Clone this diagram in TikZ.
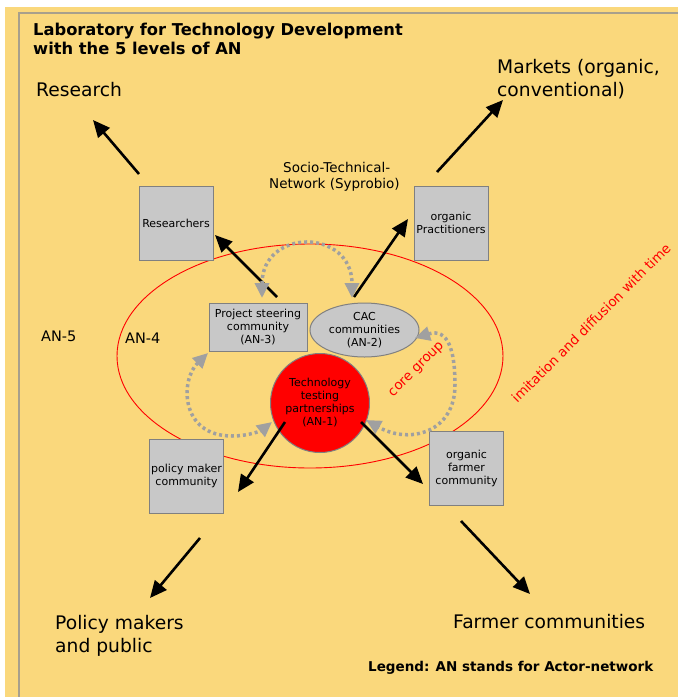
\documentclass[tikz,border=0pt]{standalone}
\usepackage{fontspec}
\setmainfont{DejaVu Sans}
\usetikzlibrary{arrows.meta,shapes.geometric}
\definecolor{bg}{HTML}{FAD87C}
\definecolor{boxfill}{HTML}{C8C8C8}
\definecolor{boxline}{HTML}{808080}
\definecolor{dotgray}{HTML}{A0A0A0}
\definecolor{framegray}{HTML}{A8A08C}
\begin{document}
\begin{tikzpicture}[x=1pt,y=-1pt,
  sq/.style={draw=boxline, fill=boxfill, line width=1pt, minimum width=74pt, minimum height=74pt, inner sep=1pt, align=center, font=\fontsize{11}{13}\selectfont},
  big/.style={font=\fontsize{18.7}{23}\selectfont, align=left, inner sep=0pt},
  blk/.style={-{Triangle[length=17pt,width=15pt]}, line width=2.6pt, black},
  dotarr/.style={{Triangle[length=15pt,width=14pt]}-{Triangle[length=15pt,width=14pt]}, draw=dotgray, line width=3.5pt, dash pattern=on 3pt off 3pt},
  redtxt/.style={text=red, font=\fontsize{13.4}{15}\selectfont, inner sep=0pt},
  anlab/.style={font=\fontsize{14.5}{16}\selectfont, anchor=west, inner sep=0pt}
]
\useasboundingbox (0,0) rectangle (678,697);
\fill[white] (0,0) rectangle (678,697);
\fill[bg] (5,7) rectangle (678,697);
\draw[framegray, line width=1.2pt] (19,697) -- (19,13) -- (678,13);

% title
\node[anchor=north west, align=left, inner sep=0pt, font=\bfseries\fontsize{16.3}{19}\selectfont] (title) at (33,23) {Laboratory for Technology Development\\with the 5 levels of AN};

% big labels
\node[big, anchor=west] (research) at (36,90) {Research};
\node[big, anchor=north west] (markets) at (497,59) {Markets (organic,\\conventional)};
\node[big, anchor=north west] (policy) at (55,615) {Policy makers\\and public};
\node[big, anchor=west] (farmers) at (453,622) {Farmer communities};
\node[font=\fontsize{13.5}{16}\selectfont, align=left, inner sep=0pt, anchor=north west] (stn) at (269,162) {\hspace*{14pt}Socio-Technical-\\Network (Syprobio)};

% ellipse AN-4
\draw[red, line width=0.9pt] (310,356) ellipse [x radius=193, y radius=112];
\node[anlab] (an5) at (41,336) {AN-5};
\node[anlab] (an4) at (125,338) {AN-4};

% boxes
\node[sq] (res) at (176,223) {Researchers};
\node[sq] (prac) at (451,223) {organic\\Practitioners};
\node[sq] (pol) at (186.5,476) {policy maker\\community};
\node[sq] (farm) at (466.5,468.5) {organic\\farmer\\community};
\node[draw=boxline, fill=boxfill, line width=1pt, minimum width=98pt, minimum height=48pt, inner sep=1pt, align=center, font=\fontsize{11}{13}\selectfont] (psc) at (258,327) {Project steering\\community\\(AN-3)};
\node[ellipse, draw=boxline, fill=boxfill, line width=1pt, minimum width=109pt, minimum height=54pt, inner sep=0pt, align=center, font=\fontsize{11}{13}\selectfont] (cac) at (364.5,330) {CAC\\communities\\(AN-2)};
\node[circle, draw=boxline, fill=red, line width=1pt, minimum size=99pt, inner sep=0pt, align=center, font=\fontsize{11}{13}\selectfont] (ttp) at (320,403) {Technology\\testing\\partnerships\\(AN-1)};

% red rotated texts
\node[redtxt, rotate=45] (core) at (417,370) {core group};
\node[redtxt, rotate=45] (imit) at (591,323) {imitation and diffusion with time};

% coordinates for black arrows
\coordinate (r1) at (139,174); \coordinate (r2) at (93,120);
\coordinate (m1) at (437,172); \coordinate (m2) at (503,100);
\coordinate (p1) at (277,297); \coordinate (p2) at (215,235);
\coordinate (c1) at (354,297); \coordinate (c2) at (408,219);
\coordinate (t1) at (285,422); \coordinate (t2) at (238,492);
\coordinate (t3) at (361,422); \coordinate (t4) at (423,484);
\coordinate (q1) at (200,538); \coordinate (q2) at (150,598);
\coordinate (f1) at (461,521); \coordinate (f2) at (530,594);

\draw[blk] (r1) -- (r2);
\draw[blk] (m1) -- (m2);
\draw[blk] (p1) -- (p2);
\draw[blk] (c1) -- (c2);
\draw[blk] (t1) -- (t2);
\draw[blk] (t3) -- (t4);
\draw[blk] (q1) -- (q2);
\draw[blk] (f1) -- (f2);

% gray dotted curves
\coordinate (g1a) at (262,298); \coordinate (g1b) at (352,298);
\draw[dotarr] (g1a) .. controls (262,228) and (352,228) .. (g1b);
\coordinate (g2a) at (208,353); \coordinate (g2m) at (232,436); \coordinate (g2b) at (272,422);
\draw[dotarr] (g2a) .. controls (180,380) and (180,436) .. (g2m) .. controls (250,436) and (262,430) .. (g2b);
\coordinate (g3a) at (415,338); \coordinate (g3m) at (455,385); \coordinate (g3b) at (366,420);
\draw[dotarr] (g3a) .. controls (448,328) and (455,350) .. (g3m) .. controls (455,432) and (410,445) .. (g3b);

% legend
\node[anchor=west, inner sep=0pt, font=\bfseries\fontsize{13.5}{15}\selectfont] (legend) at (368,668) {Legend: AN stands for Actor-network};
\end{tikzpicture}
\end{document}
